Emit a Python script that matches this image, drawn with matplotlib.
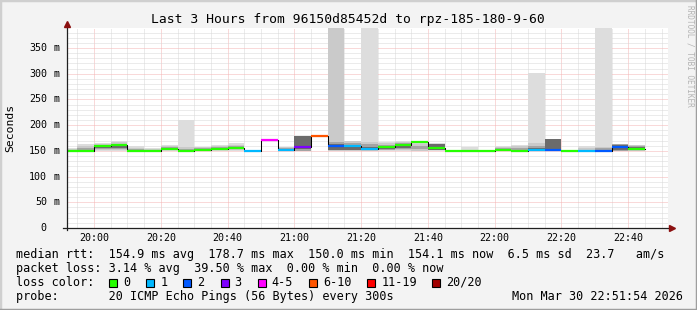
import matplotlib
matplotlib.use("Agg")
import matplotlib.pyplot as plt
import matplotlib.dates as mdates
from matplotlib.patches import Rectangle
from matplotlib.lines import Line2D
import numpy as np
import pandas as pd

nan = np.nan

# 5 minute RRD steps, 19:50 .. 22:40
step_start = pd.date_range("2026-03-30 19:50", periods=35, freq="5min")

# median rtt per step (ms)
median_ms = [150, 150, 159, 161, 150, 150, 154, 150, 152, 154, 156, 150,
             172, 151, 158, 178.7, 160, 160, 154, 158, 162, 167, 156, 150,
             150, 150, 152, 150.5, 152, 152, 150, 150, 150, 157, 154.1]

# lost pings (of 20) per step
loss_pings = [0, 0, 0, 0, 0, 0, 0, 0, 0, 0, 0, 1, 5, 1, 3, 8, 2, 1, 1, 0,
              0, 0, 0, 0, 0, 0, 0, 0, 1, 2, 0, 1, 2, 2, 0]

# smoke envelopes (ms): outermost ping pair, 2nd, 4th and 7th pair
smoke1_lo = [149.6, 149.5, 150, 150, 149.5, 149.5, 150, 149.5, 150, 150, 150, nan,
             nan, nan, nan, nan, nan, nan, 149, 150, 150, 149, 150, nan,
             150, nan, 150, 150, 149.5, nan, nan, 149.5, 149, nan, 150]
smoke1_hi = [155, 163, 166, 170, 159, 155, 161, 210, 158, 161, 165, nan,
             nan, nan, nan, nan, nan, nan, 400, 168, 170, 166, 165, nan,
             157, nan, 160, 162, 302, nan, nan, 159, 400, nan, 162]
smoke2_lo = [149.8, 150, 151, 152, 150, 150, 151, 150, 150.5, 151, 151, nan,
             nan, 150, nan, nan, 149, 150, 150, 151, 151, 150, 151, nan,
             nan, nan, 150.5, 150.5, 150, nan, nan, 150, 150, nan, 150.5]
smoke2_hi = [153, 160, 164, 167, 156, 153, 159, 157, 157, 160, 162, nan,
             nan, 158, nan, nan, 400, 170, 168, 166, 168, 163, 164, nan,
             nan, nan, 158, 160, 165, nan, nan, 155, 158, nan, 161]
smoke4_lo = [150, 150.5, 153, 154, 150, nan, 152, 150, 151, 152, 153, nan,
             nan, 150.5, 150, nan, 151, 151, 151, 152, 153, 153, 152, nan,
             nan, nan, 151, 151, 151, 150, nan, nan, 150, 150, 152]
smoke4_hi = [151.5, 155, 161, 164, 153, nan, 157, 153, 155, 157, 159, nan,
             nan, 155, 179, nan, 168, 166, 164, 162, 165, 160, 162, nan,
             nan, nan, 155, 156, 160, 174, nan, nan, 155, 163, 159]
smoke7_lo = [nan, 151, 155, 156, nan, nan, 153, nan, 151.5, 153, 154, nan,
             nan, nan, 153, nan, 152, 152, 152, 153, 155, nan, 152, nan,
             nan, nan, nan, nan, 151.5, 152, nan, nan, nan, 152, 153]
smoke7_hi = [nan, 152.5, 158, 160, nan, nan, 155, nan, 153, 156, 157, nan,
             nan, nan, 179, nan, 163, 162, 158, 159, 161, nan, 163, nan,
             nan, nan, nan, nan, 156, 174, nan, nan, nan, 162, 157]

loss_labels = ["0", "1", "2", "3", "4-5", "6-10", "11-19", "20/20"]
loss_upper = [0, 1, 2, 3, 5, 10, 19, 20]
loss_colors = ["#26ff00", "#00b8ff", "#0059ff", "#7e00ff", "#ff00ff",
               "#ff5500", "#ff0000", "#a10000"]

title = "Last 3 Hours from 96150d85452d to rpz-185-180-9-60"
rtt_line = ("median rtt:  154.9 ms avg  178.7 ms max  150.0 ms min  "
            "154.1 ms now  6.5 ms sd  23.7   am/s")
loss_line = "packet loss: 3.14 % avg  39.50 % max  0.00 % min  0.00 % now"
probe_line = "probe:       20 ICMP Echo Pings (56 Bytes) every 300s"
stamp = "Mon Mar 30 22:51:54 2026"

W, H = 697, 310
MONO = "DejaVu Sans Mono"

fig = plt.figure(figsize=(W / 100, H / 100), dpi=100, facecolor="#f3f3f3")
ax = fig.add_axes([67 / W, 1 - 228 / H, 601 / W, 200 / H])
ax.set_facecolor("white")


def fx(px):
    return px / W


def fy(py):
    return 1 - py / H


x0 = mdates.date2num(step_start)
step_w = 5 / 1440.0

# smoke layers, smokeping grey formula
for rank, lo, hi in [(1, smoke1_lo, smoke1_hi), (2, smoke2_lo, smoke2_hi),
                     (4, smoke4_lo, smoke4_hi), (7, smoke7_lo, smoke7_hi)]:
    lo = np.array(lo, dtype=float)
    hi = np.array(hi, dtype=float)
    ok = ~np.isnan(lo)
    g = int(190 / 10 * (10 - rank)) + 50
    col = "#%02x%02x%02x" % (g, g, g)
    ax.bar(x0[ok], hi[ok] - lo[ok], bottom=lo[ok], width=step_w, align="edge",
           color=col, linewidth=0, zorder=2)

# median: black step line, then loss coloured segments
edges = np.append(x0, x0[-1] + step_w)
med = np.array(median_ms, dtype=float)
ax.step(edges, np.append(med, med[-1]), where="post", color="#000000",
        lw=0.75, zorder=3)
loss = np.array(loss_pings)
lower = 0
for up, col in zip(loss_upper, loss_colors):
    m = (loss >= lower) & (loss <= up)
    lower = up + 1
    if m.any():
        ax.hlines(med[m], x0[m], x0[m] + step_w, color=col, lw=1.6, zorder=4)

# axes range / grid
t_start = mdates.date2num(pd.Timestamp("2026-03-30 19:51:54"))
t_end = mdates.date2num(pd.Timestamp("2026-03-30 22:51:54"))
ax.set_xlim(t_start, t_end)
ax.set_ylim(0, 388.9)
major_t = pd.date_range("2026-03-30 20:00", "2026-03-30 22:40", freq="20min")
minor_t = pd.date_range("2026-03-30 19:55", "2026-03-30 22:50", freq="5min")
ax.set_xticks(mdates.date2num(major_t))
ax.set_xticks(mdates.date2num(minor_t), minor=True)
ax.set_yticks(np.arange(0, 351, 50))
ax.set_yticks(np.arange(10, 381, 10), minor=True)
ax.set_axisbelow(True)
ax.grid(which="minor", color="#d8d8d8", lw=0.72, ls=(0, (1, 1)))
ax.grid(which="major", color="#f5b4b4", lw=0.72, ls=(0, (1, 1)))
ax.tick_params(which="both", length=0, labelbottom=False, labelleft=False)
for s in ax.spines.values():
    s.set_visible(False)

# axes with arrows
ax.add_line(Line2D([-0.007, 1.004], [0, 0], transform=ax.transAxes,
                   color="#202020", lw=0.9, clip_on=False, zorder=5))
ax.add_line(Line2D([0, 0], [-0.012, 1.018], transform=ax.transAxes,
                   color="#202020", lw=0.9, clip_on=False, zorder=5))
ax.plot(1.006, 0, marker=">", ms=4, color="#8b1010", transform=ax.transAxes,
        clip_on=False, zorder=6)
ax.plot(0, 1.02, marker="^", ms=4, color="#8b1010", transform=ax.transAxes,
        clip_on=False, zorder=6)

# tick labels
for t in major_t:
    ax.text(mdates.date2num(t), -0.048, t.strftime("%H:%M"), family=MONO,
            fontsize=7.2, ha="center", va="center",
            transform=ax.get_xaxis_transform())
for v in np.arange(0, 351, 50):
    ax.text(-0.0335, v, "%d" % v, family=MONO, fontsize=7.2, ha="right",
            va="center", transform=ax.get_yaxis_transform())
    if v:
        ax.text(-0.0125, v, "m", family=MONO, fontsize=7.2, ha="right",
                va="center", transform=ax.get_yaxis_transform())

# texts
fig.text(fx(347.5), fy(19), title, family=MONO, fontsize=9.4,
         ha="center", va="center")
fig.text(fx(10), fy(128), "Seconds", family=MONO, fontsize=8.2,
         rotation=90, ha="center", va="center")
fig.text(fx(690), fy(5), "RRDTOOL / TOBI OETIKER", family=MONO,
         fontsize=5.6, rotation=270, ha="center", va="top", color="#b4b4b4")
fig.text(fx(16), fy(254.3), rtt_line, family=MONO, fontsize=8.5, va="center")
fig.text(fx(16), fy(268.3), loss_line, family=MONO, fontsize=8.5, va="center")
fig.text(fx(16), fy(282.3), "loss color:", family=MONO, fontsize=8.5,
         va="center")
fig.text(fx(16), fy(296.3), probe_line, family=MONO, fontsize=8.5,
         va="center")
fig.text(fx(683), fy(296.3), stamp, family=MONO, fontsize=8.5, ha="right",
         va="center")

box_x = [109, 146.4, 183.5, 220.5, 257.6, 309.4, 367.4, 432.1]
for bx, lab, col in zip(box_x, loss_labels, loss_colors):
    fig.patches.append(Rectangle((fx(bx), fy(286.5)), 8 / W, 8 / H,
                                 transform=fig.transFigure, facecolor=col,
                                 edgecolor="black", lw=0.8))
    fig.text(fx(bx + 14), fy(282.3), lab, family=MONO, fontsize=8.5,
             va="center")

# 3d-ish frame
for (xa, ya, xb, yb, c) in [(0, 0, 0, 1, "#cfcfcf"), (0, 1, 1, 1, "#cfcfcf"),
                            (1, 0, 1, 1, "#9e9e9e"), (0, 0, 1, 0, "#9e9e9e")]:
    fig.add_artist(Line2D([xa, xb], [ya, yb], transform=fig.transFigure,
                          color=c, lw=2.5))

fig.savefig("out.png", dpi=100, facecolor=fig.get_facecolor())
